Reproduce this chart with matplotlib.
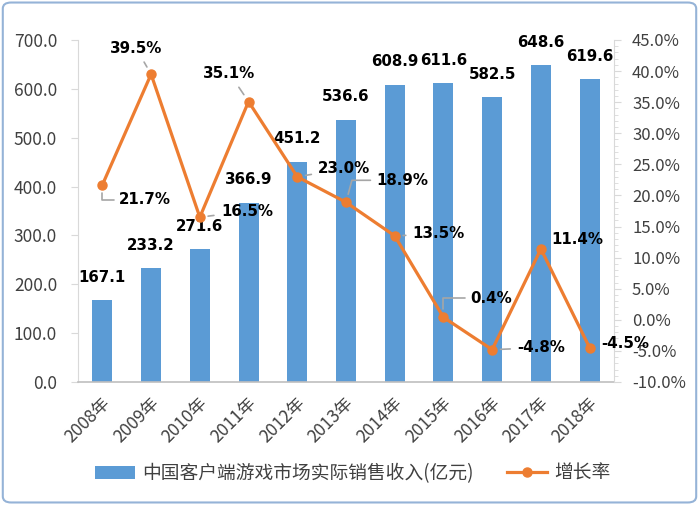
import matplotlib
matplotlib.use("Agg")
import matplotlib.pyplot as plt
import matplotlib.transforms as mtransforms
from matplotlib.patches import FancyBboxPatch, Patch
from matplotlib.lines import Line2D
import numpy as np

plt.rcParams['font.family'] = ['Noto Sans CJK SC', 'DejaVu Sans']

years = ['2008年', '2009年', '2010年', '2011年', '2012年', '2013年',
         '2014年', '2015年', '2016年', '2017年', '2018年']
revenue = [167.1, 233.2, 271.6, 366.9, 451.2, 536.6, 608.9, 611.6, 582.5, 648.6, 619.6]
growth = [21.7, 39.5, 16.5, 35.1, 23.0, 18.9, 13.5, 0.4, -4.8, 11.4, -4.5]
bar_name = '中国客户端游戏市场实际销售收入(亿元)'
line_name = '增长率'

# label offsets in pixels (dx, dy, leader style)
label_offsets = [(17, -15, 'elbow'), (-15, 26, 'center'), (21, 6, 'line'),
                 (-19, 28, 'center'), (21, 8, 'line'), (30, 22, 'elbow2'),
                 (18, 2, 'line'), (27, 19, 'elbow'), (25, 2, 'line'),
                 (10, 9, 'none'), (12, 4, 'none')]

BLUE = '#5B9BD5'
ORANGE = '#ED7D31'
GRAY = '#A6A6A6'
TXT = '#404040'

fig = plt.figure(figsize=(6.99, 5.05), dpi=100)
ax = fig.add_axes([78/699, 1-382/505, (614-78)/699, (382-40)/505])
x = np.arange(len(years))
ax.bar(x, revenue, width=0.41, color=BLUE, zorder=2)
ax.set_xlim(-0.5, len(years)-0.5)
ax.set_ylim(0, 700)
ax.set_yticks(np.arange(0, 701, 100))
ax.set_yticklabels([f'{v:.1f}' for v in np.arange(0, 701, 100)])
for sp in ['top', 'right']:
    ax.spines[sp].set_visible(False)
ax.spines['left'].set_color('#D9D9D9')
ax.spines['bottom'].set_color('#BFBFBF')
ax.spines['bottom'].set_linewidth(1.2)
ax.tick_params(axis='y', colors='#D9D9D9', labelcolor=TXT, labelsize=12.5,
               length=5, pad=10)
ax.tick_params(axis='x', length=0, labelsize=12.5, labelcolor=TXT, pad=13)
ax.set_xticks(x)
ax.set_xticklabels(years, rotation=45, ha='right', va='center',
                   rotation_mode='anchor')
off = mtransforms.ScaledTranslation(5/100, 0, fig.dpi_scale_trans)
for lab in ax.get_xticklabels():
    lab.set_transform(lab.get_transform() + off)

for xi, v in zip(x, revenue):
    ax.annotate(f'{v:.1f}', (xi, v), xytext=(0, 23), textcoords='offset pixels',
                ha='center', va='center', fontsize=10.8, fontweight='bold',
                family='DejaVu Sans', color='black', zorder=5)

ax2 = ax.twinx()
ax2.set_ylim(-10, 45)
ax2.set_yticks(np.arange(-10, 46, 5))
ax2.set_yticklabels([f'{v:.1f}%' for v in np.arange(-10, 46, 5)])
ax2.set_yticks(np.arange(-10, 46, 1), minor=True)
for sp in ['top', 'left', 'bottom']:
    ax2.spines[sp].set_visible(False)
ax2.spines['right'].set_color('#D9D9D9')
ax2.tick_params(axis='y', which='major', colors='#D9D9D9', labelcolor=TXT,
                labelsize=12, length=5, pad=8)
ax2.tick_params(axis='y', which='minor', colors='#D9D9D9', length=3)
ax2.plot(x, growth, color=ORANGE, lw=2.3, marker='o', ms=6.5, zorder=4)

for xi, g, (dx, dy, style) in zip(x, growth, label_offsets):
    ha = 'center' if style == 'center' else 'left'
    arrow = None
    if style == 'elbow':
        arrow = dict(arrowstyle='-', color=GRAY, lw=1.2,
                     connectionstyle='angle,angleA=0,angleB=90,rad=0',
                     shrinkA=2, shrinkB=6)
    elif style == 'elbow2':
        arrow = dict(arrowstyle='-', color=GRAY, lw=1.2,
                     connectionstyle='angle,angleA=0,angleB=75,rad=0',
                     shrinkA=2, shrinkB=6)
    elif style in ('line', 'center'):
        arrow = dict(arrowstyle='-', color=GRAY, lw=1.2, shrinkA=3, shrinkB=6)
    ax2.annotate(f'{g:.1f}%', (xi, g), xytext=(dx, dy), textcoords='offset pixels',
                 ha=ha, va='center', fontsize=10.8, fontweight='bold',
                 family='DejaVu Sans', color='black', arrowprops=arrow, zorder=6)

handles = [Patch(facecolor=BLUE, edgecolor='none'),
           Line2D([0], [0], color=ORANGE, lw=2.3, marker='o', ms=6.5)]
fig.legend(handles, [bar_name, line_name], loc='center', bbox_to_anchor=(0.505, 0.063),
           ncol=2, frameon=False, fontsize=13.5, handlelength=2.1, columnspacing=1.8,
           handletextpad=0.4, labelcolor=TXT)

border = FancyBboxPatch((0.004, 0.005), 0.992, 0.99, boxstyle='round,pad=0,rounding_size=0.012',
                        transform=fig.transFigure, fill=False, edgecolor='#95B3D7', lw=1.5)
fig.patches.append(border)

fig.savefig('out.png', dpi=100)
